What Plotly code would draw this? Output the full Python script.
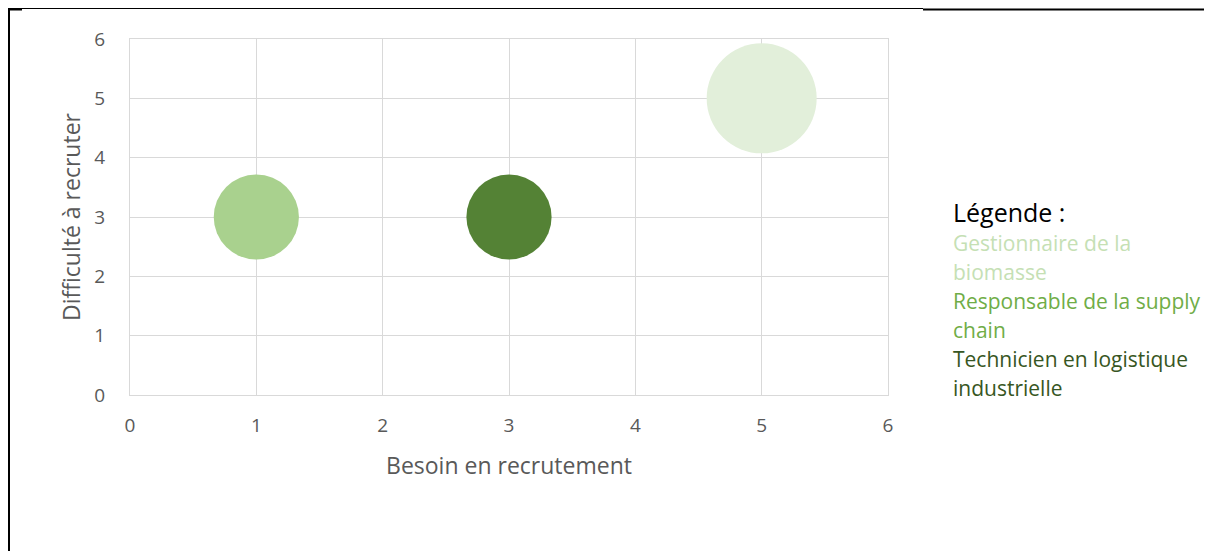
import plotly.graph_objects as go

# Data
jobs = ["Gestionnaire de la biomasse", "Responsable de la supply chain", "Technicien en logistique industrielle"]
besoin = [5, 1, 3]
difficulte = [5, 3, 3]
taille = [5, 3, 3]
bubble_colors = ["#E2EFDA", "#A9D18E", "#548235"]
legend_lines = [("Gestionnaire de la", "#C5E0B4"), ("biomasse", "#C5E0B4"),
                ("Responsable de la supply", "#70AD47"), ("chain", "#70AD47"),
                ("Technicien en logistique", "#375623"), ("industrielle", "#375623")]
ticks = [0, 1, 2, 3, 4, 5, 6]

OFF = 8  # page body margin
W, H = 1212 - OFF, 551 - OFF
L, R, T, B = 130 - OFF, 888 - OFF, 39 - OFF, 395 - OFF

fig = go.Figure()
fig.add_trace(go.Scatter(
    x=besoin, y=difficulte, mode="markers",
    marker=dict(size=taille, sizemode="area", sizeref=2 * 5 / 110**2,
                color=bubble_colors, opacity=1, line=dict(width=0)),
    text=jobs, hoverinfo="text", showlegend=False))

font = "Open Sans, sans-serif"

def px_x(p):
    return (p - OFF - L) / (R - L)

def px_y(p):
    return (B - (p - OFF)) / (B - T)

shapes = [
    dict(type="line", xref="paper", yref="paper", x0=px_x(9), x1=px_x(9), y0=px_y(9), y1=px_y(560),
         line=dict(color="black", width=2)),
    dict(type="line", xref="paper", yref="paper", x0=px_x(8), x1=px_x(923), y0=px_y(8.5), y1=px_y(8.5),
         line=dict(color="black", width=1)),
    dict(type="line", xref="paper", yref="paper", x0=px_x(8), x1=px_x(22), y0=px_y(9.5), y1=px_y(9.5),
         line=dict(color="black", width=2)),
    dict(type="line", xref="paper", yref="paper", x0=px_x(923), x1=px_x(1213), y0=px_y(9.5), y1=px_y(9.5),
         line=dict(color="black", width=2)),
]

annotations = [dict(text="Légende :", xref="paper", yref="paper", x=px_x(951), y=px_y(212),
                    xanchor="left", yanchor="middle", showarrow=False,
                    font=dict(family=font, size=25, color="black"))]
for i, (txt, col) in enumerate(legend_lines):
    annotations.append(dict(text=txt, xref="paper", yref="paper", x=px_x(951), y=px_y(243 + 29 * i),
                            xanchor="left", yanchor="middle", showarrow=False,
                            font=dict(family=font, size=21, color=col)))

axis_common = dict(range=[0, 6], tickvals=ticks, showgrid=True, gridcolor="#D9D9D9", gridwidth=1,
                   zeroline=False, showline=True, linecolor="#D9D9D9", linewidth=1, mirror=True,
                   tickfont=dict(family=font, size=19, color="#595959"), fixedrange=True)

fig.update_layout(
    width=W, height=H,
    margin=dict(l=L, r=W - R, t=T, b=H - B),
    paper_bgcolor="white", plot_bgcolor="white",
    xaxis=dict(**axis_common, ticklabelstandoff=13,
               title=dict(text="Besoin en recrutement", font=dict(family=font, size=23, color="#595959"), standoff=21)),
    yaxis=dict(**axis_common, ticklabelstandoff=20,
               title=dict(text="Difficulté à recruter", font=dict(family=font, size=23, color="#595959"), standoff=7)),
    shapes=shapes, annotations=annotations,
)

fig.write_html("out.html", config={"displayModeBar": False})
